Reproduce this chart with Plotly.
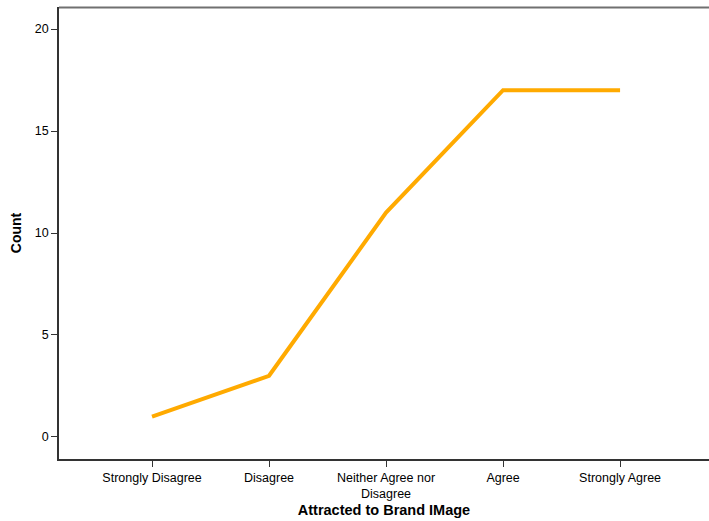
import plotly.graph_objects as go

categories = ["Strongly Disagree", "Disagree", "Neither Agree nor<br>Disagree", "Agree", "Strongly Agree"]
counts = [1, 3, 11, 17, 17]
y_ticks = [0, 5, 10, 15, 20]

fig = go.Figure()
fig.add_trace(go.Scatter(
    x=list(range(len(categories))), y=counts, mode="lines",
    line=dict(color="#FFAA00", width=4), hoverinfo="skip"))

fig.update_layout(
    width=709, height=521,
    margin=dict(l=59, r=0, t=7, b=62),
    paper_bgcolor="white", plot_bgcolor="white",
    showlegend=False,
    font=dict(family="Arial, Liberation Sans, sans-serif", size=12, color="#000"),
    xaxis=dict(
        range=[-0.795, 4.76], tickmode="array",
        tickvals=list(range(len(categories))), ticktext=categories,
        showgrid=False, zeroline=False, showline=True, linecolor="#333", linewidth=1.5,
        ticks="outside", ticklen=6, tickcolor="#333", tickfont=dict(size=12.5),
        automargin=False,
        title=dict(text="<b>Attracted to Brand IMage</b>", font=dict(size=14.5), standoff=5)),
    yaxis=dict(
        range=[-1.08, 21.08], tickmode="array", tickvals=y_ticks,
        showgrid=False, zeroline=False, showline=True, linecolor="#333", linewidth=1.5,
        ticks="outside", ticklen=6, tickcolor="#333", tickfont=dict(size=12.5),
        automargin=False,
        title=dict(text="<b>Count</b>", font=dict(size=14), standoff=10)),
)
fig.add_shape(type="line", xref="paper", yref="paper", x0=0, x1=1, y0=0.999, y1=0.999,
              layer="above", line=dict(color="#707070", width=2))

fig.write_html("out.html", config={"displayModeBar": False},
               post_script="document.body.style.margin='0';")
